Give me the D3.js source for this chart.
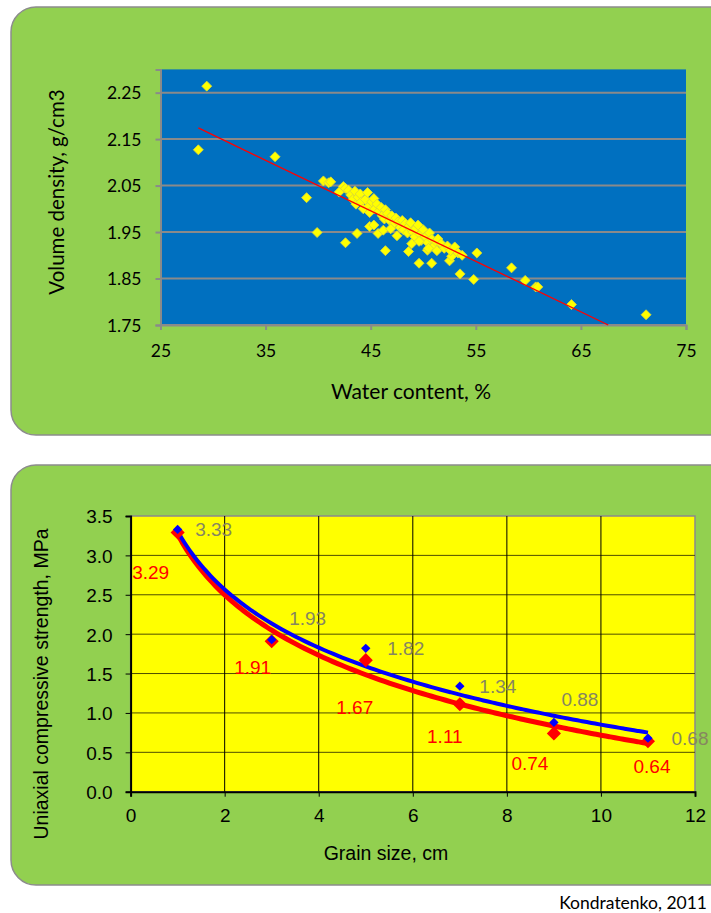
<!DOCTYPE html>
<html>
<head>
<meta charset="utf-8">
<script src="https://cdn.jsdelivr.net/npm/d3@7"></script>
<style>
  body { margin: 0; background: #fff; }
  svg { display: block; }
</style>
</head>
<body>
<div id="chart"></div>
<script>
// top chart: water content vs volume density
var densityPoints = [
  [29.4, 2.264], [28.6, 2.127], [35.9, 2.112], [38.9, 2.024], [39.9, 1.949],
  [40.5, 2.060], [41.0, 2.056], [41.2, 2.058], [42.6, 1.927], [43.7, 1.947],
  [46.4, 1.910], [45.7, 1.947], [44.9, 1.962], [49.6, 1.883], [50.8, 1.883],
  [52.5, 1.888], [53.5, 1.860], [54.8, 1.848], [55.1, 1.905], [58.4, 1.873],
  [59.7, 1.846], [60.7, 1.832], [60.9, 1.832], [64.1, 1.794], [71.2, 1.772],
  [48.6, 1.908], [50.4, 1.911], [47.5, 1.942], [46.2, 1.954], [52.0, 1.917],
  [52.7, 1.898],
  [42.0, 2.036], [42.4, 2.048], [42.6, 2.044], [42.9, 2.040], [43.1, 2.030],
  [43.3, 2.020], [43.5, 2.038], [43.6, 2.010], [43.8, 2.025], [44.0, 2.032],
  [44.1, 2.015], [44.3, 2.000], [44.5, 2.020], [44.7, 2.035], [44.8, 2.005],
  [44.9, 1.992], [45.1, 2.015], [45.3, 2.022], [45.4, 2.000], [45.6, 2.010],
  [45.8, 1.995], [46.0, 2.003], [46.1, 1.985], [46.3, 1.978], [46.4, 1.998],
  [46.6, 1.990], [46.8, 1.975], [47.0, 1.985], [47.2, 1.968], [47.4, 1.980],
  [47.6, 1.972], [47.8, 1.960], [48.0, 1.975], [48.1, 1.955], [48.3, 1.968],
  [48.5, 1.948], [48.6, 1.962], [48.8, 1.970], [49.0, 1.950], [49.2, 1.940],
  [49.3, 1.958], [49.5, 1.965], [49.7, 1.945], [49.8, 1.932], [50.0, 1.955],
  [50.2, 1.940], [50.4, 1.928], [50.6, 1.948], [50.8, 1.935], [51.0, 1.920],
  [51.2, 1.930], [51.4, 1.935], [51.7, 1.925], [52.0, 1.915], [52.3, 1.920],
  [52.6, 1.910], [53.0, 1.918], [53.3, 1.905], [53.7, 1.900], [45.3, 1.965],
  [46.9, 1.957], [48.9, 1.925], [49.6, 1.930], [50.5, 1.915], [51.3, 1.910]
]
var trendEnds = [[28.6, 2.174], [67.6, 1.75]]
var waterTicks = [25, 35, 45, 55, 65, 75]
var densityTicks = [1.75, 1.85, 1.95, 2.05, 2.15, 2.25]

// bottom chart: grain size vs strength
var grainSize = [1, 3, 5, 7, 9, 11]
var strengthBlue = [3.33, 1.93, 1.82, 1.34, 0.88, 0.68]
var strengthRed = [3.29, 1.91, 1.67, 1.11, 0.74, 0.64]
var grainTicks = [0, 2, 4, 6, 8, 10, 12]
var strengthTicks = [0, 0.5, 1, 1.5, 2, 2.5, 3, 3.5]

// label offsets (px) picked by eye
var blueLabelOffset = [[36, 0], [36, -22], [40, 0], [38, 0], [26, -23], [42, 0]]
var redLabelOffset = [[-27, 40], [-19, 26], [-11, 47], [-15, 32], [-24, 30], [4, 25]]

var width = 711
var height = 913

var svg = d3.select("#chart").append("svg")
  .attr("width", width)
  .attr("height", height)

var green = "#92d050"

// diamonds = squares turned 45 deg
function diamond(size) {
  return d3.symbol().type(d3.symbolSquare).size(size)
}

// ---------- top panel ----------
svg.append("rect")
  .attr("x", 11).attr("y", 7)
  .attr("width", 730).attr("height", 428)
  .attr("rx", 25)
  .attr("fill", green)
  .attr("stroke", "#8c8c8c")
  .attr("stroke-width", 1.5)

var x1 = d3.scaleLinear().domain([25, 75]).range([160.5, 686])
var y1 = d3.scaleLinear().domain([1.75, 2.30]).range([325, 69.4])

var topG = svg.append("g").attr("font-family", "Lato, sans-serif")

topG.append("rect")
  .attr("x", x1(25)).attr("y", y1(2.30))
  .attr("width", x1(75) - x1(25))
  .attr("height", y1(1.75) - y1(2.30))
  .attr("fill", "#0070c0")

topG.selectAll(".hgrid")
  .data(densityTicks)
  .enter()
  .append("line")
  .attr("x1", x1(25)).attr("x2", x1(75))
  .attr("y1", function (d) { return y1(d) })
  .attr("y2", function (d) { return y1(d) })
  .attr("stroke", "#8a8a8a")
  .attr("stroke-width", 2)

var xAxis1 = topG.append("g")
  .attr("transform", "translate(0," + y1(1.75) + ")")
  .call(d3.axisBottom(x1).tickValues(waterTicks).tickSize(5).tickPadding(15).tickFormat(d3.format("d")))
var yAxis1 = topG.append("g")
  .attr("transform", "translate(" + x1(25) + ",0)")
  .call(d3.axisLeft(y1).tickValues(densityTicks).tickSize(5).tickPadding(14).tickFormat(d3.format(".2f")))

;[xAxis1, yAxis1].forEach(function (a) {
  a.select(".domain").attr("stroke", "#8a8a8a").attr("stroke-width", 2)
  a.selectAll(".tick line").attr("stroke", "#8a8a8a").attr("stroke-width", 2)
  a.selectAll("text").attr("font-size", 17.5).attr("fill", "#000").attr("font-family", "Lato, sans-serif")
})
yAxis1.selectAll("text").attr("dy", "0.36em")

topG.selectAll(".pt")
  .data(densityPoints)
  .enter()
  .append("path")
  .attr("d", diamond(50))
  .attr("transform", function (d) {
    return "translate(" + x1(d[0]) + "," + y1(d[1]) + ") rotate(45)"
  })
  .attr("fill", "#ffff00")
  .attr("stroke", "#d6d63a")
  .attr("stroke-width", 0.8)

topG.append("line")
  .attr("x1", x1(trendEnds[0][0])).attr("y1", y1(trendEnds[0][1]))
  .attr("x2", x1(trendEnds[1][0])).attr("y2", y1(trendEnds[1][1]))
  .attr("stroke", "#ff0000")
  .attr("stroke-width", 1.3)

topG.append("text")
  .attr("x", 411).attr("y", 399)
  .attr("text-anchor", "middle")
  .attr("font-size", 21)
  .text("Water content, %")

topG.append("text")
  .attr("transform", "translate(64,192) rotate(-90)")
  .attr("text-anchor", "middle")
  .attr("font-size", 20.5)
  .text("Volume density, g/cm3")

// ---------- bottom panel ----------
svg.append("rect")
  .attr("x", 11).attr("y", 465)
  .attr("width", 730).attr("height", 420)
  .attr("rx", 25)
  .attr("fill", green)
  .attr("stroke", "#8c8c8c")
  .attr("stroke-width", 1.5)

var x2 = d3.scaleLinear().domain([0, 12]).range([130.6, 695])
var y2 = d3.scaleLinear().domain([0, 3.5]).range([791.7, 516])

var bot = svg.append("g").attr("font-family", "'Liberation Sans', Arial, sans-serif")

bot.append("rect")
  .attr("x", x2(0)).attr("y", y2(3.5))
  .attr("width", x2(12) - x2(0))
  .attr("height", y2(0) - y2(3.5))
  .attr("fill", "#ffff00")
  .attr("stroke", "#8a8a8a")
  .attr("stroke-width", 1.5)

bot.selectAll(".hg")
  .data(strengthTicks.slice(1, -1))
  .enter()
  .append("line")
  .attr("x1", x2(0)).attr("x2", x2(12))
  .attr("y1", function (d) { return y2(d) })
  .attr("y2", function (d) { return y2(d) })
  .attr("stroke", "#4d4d00")
  .attr("stroke-width", 1)

bot.selectAll(".vg")
  .data(grainTicks.slice(1, -1))
  .enter()
  .append("line")
  .attr("y1", y2(0)).attr("y2", y2(3.5))
  .attr("x1", function (d) { return x2(d) })
  .attr("x2", function (d) { return x2(d) })
  .attr("stroke", "#000")
  .attr("stroke-width", 1)

var xAxis2 = bot.append("g")
  .attr("transform", "translate(0," + y2(0) + ")")
  .call(d3.axisBottom(x2).tickValues(grainTicks).tickSize(5).tickPadding(12).tickFormat(d3.format("d")))
var yAxis2 = bot.append("g")
  .attr("transform", "translate(" + x2(0) + ",0)")
  .call(d3.axisLeft(y2).tickValues(strengthTicks).tickSize(5).tickPadding(13).tickFormat(d3.format(".1f")))

;[xAxis2, yAxis2].forEach(function (a) {
  a.select(".domain").attr("stroke", "#000").attr("stroke-width", 2)
  a.selectAll(".tick line").attr("stroke", "#000").attr("stroke-width", 1)
  a.selectAll("text").attr("font-size", 19).attr("fill", "#000").attr("font-family", "'Liberation Sans', Arial, sans-serif")
})
yAxis2.selectAll("text").attr("dy", "0.36em")

// logarithmic trend lines fitted from the data
function logFit(xs, ys) {
  var lx = xs.map(Math.log)
  var mx = d3.mean(lx), my = d3.mean(ys)
  var sxy = d3.sum(lx, function (v, i) { return (v - mx) * (ys[i] - my) })
  var sxx = d3.sum(lx, function (v) { return (v - mx) * (v - mx) })
  var b = sxy / sxx
  return { a: my - b * mx, b: b }
}

var fitBlue = logFit(grainSize, strengthBlue)
var fitRed = logFit(grainSize, strengthRed)
var curveX = d3.range(1, 11.001, 0.1)

var line = function (fit) {
  return d3.line()
    .x(function (d) { return x2(d) })
    .y(function (d) { return y2(fit.a + fit.b * Math.log(d)) })
    .curve(d3.curveMonotoneX)(curveX)
}

bot.append("path")
  .attr("d", line(fitRed))
  .attr("fill", "none")
  .attr("stroke", "#ff0000")
  .attr("stroke-width", 5)

bot.append("path")
  .attr("d", line(fitBlue))
  .attr("fill", "none")
  .attr("stroke", "#0000ff")
  .attr("stroke-width", 4)

bot.selectAll(".rm")
  .data(grainSize)
  .enter()
  .append("path")
  .attr("d", diamond(100))
  .attr("transform", function (d, i) {
    return "translate(" + x2(d) + "," + y2(strengthRed[i]) + ") rotate(45)"
  })
  .attr("fill", "#ff0000")

bot.selectAll(".bm")
  .data(grainSize)
  .enter()
  .append("path")
  .attr("d", diamond(44))
  .attr("transform", function (d, i) {
    return "translate(" + x2(d) + "," + y2(strengthBlue[i]) + ") rotate(45)"
  })
  .attr("fill", "#0000ff")

bot.selectAll(".bl")
  .data(grainSize)
  .enter()
  .append("text")
  .attr("x", function (d, i) { return x2(d) + blueLabelOffset[i][0] })
  .attr("y", function (d, i) { return y2(strengthBlue[i]) + blueLabelOffset[i][1] })
  .attr("dy", "0.36em")
  .attr("font-size", 19)
  .attr("text-anchor", "middle")
  .attr("fill", "#868660")
  .text(function (d, i) { return strengthBlue[i].toFixed(2) })

bot.selectAll(".rl")
  .data(grainSize)
  .enter()
  .append("text")
  .attr("x", function (d, i) { return x2(d) + redLabelOffset[i][0] })
  .attr("y", function (d, i) { return y2(strengthRed[i]) + redLabelOffset[i][1] })
  .attr("dy", "0.36em")
  .attr("font-size", 19)
  .attr("text-anchor", "middle")
  .attr("fill", "#ff0000")
  .text(function (d, i) { return strengthRed[i].toFixed(2) })

bot.append("text")
  .attr("x", 386).attr("y", 860)
  .attr("text-anchor", "middle")
  .attr("font-size", 19.5)
  .text("Grain size, cm")

bot.append("text")
  .attr("transform", "translate(48,684) rotate(-90)")
  .attr("text-anchor", "middle")
  .attr("font-size", 19.5)
  .text("Uniaxial compressive strength, MPa")

svg.append("text")
  .attr("x", 707).attr("y", 909)
  .attr("text-anchor", "end")
  .attr("font-family", "Lato, sans-serif")
  .attr("font-size", 17.5)
  .text("Kondratenko, 2011")
</script>
</body>
</html>
